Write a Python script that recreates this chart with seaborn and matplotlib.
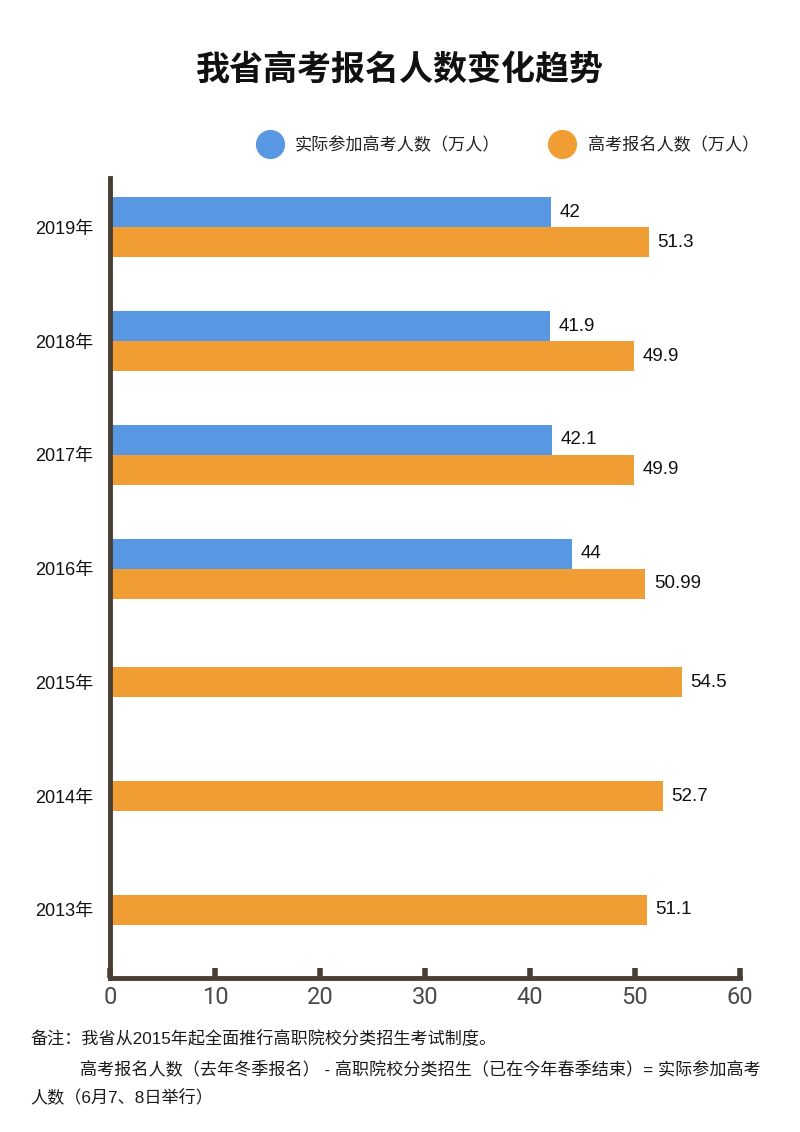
import matplotlib
matplotlib.use("Agg")
import matplotlib.pyplot as plt
from matplotlib.lines import Line2D
import numpy as np
import seaborn as sns

YEARS = ["2013年", "2014年", "2015年", "2016年", "2017年", "2018年", "2019年"]
REGISTERED = [51.1, 52.7, 54.5, 50.99, 49.9, 49.9, 51.3]          # 高考报名人数
ACTUAL = [None, None, None, 44, 42.1, 41.9, 42]                    # 实际参加高考人数
VALUE_TEXT_REG = ["51.1", "52.7", "54.5", "50.99", "49.9", "49.9", "51.3"]
VALUE_TEXT_ACT = [None, None, None, "44", "42.1", "41.9", "42"]
SERIES_NAMES = ["实际参加高考人数（万人）", "高考报名人数（万人）"]
X_TICKS = [0, 10, 20, 30, 40, 50, 60]

BLUE = "#5898E2"
ORANGE = "#F09E34"
AXIS = "#4A3E34"
CJK = ["Liberation Sans", "Noto Sans CJK SC"]

sns.set_theme(style="white")
plt.rcParams["font.family"] = CJK

fig = plt.figure(figsize=(8, 11.32), dpi=100)
ax = fig.add_axes([0.1375, 0.136, 0.7875, 0.7068])

bar_h = 0.264
for i, (reg, act) in enumerate(zip(REGISTERED, ACTUAL)):
    if act is None:
        ax.barh(i, reg, height=bar_h, color=ORANGE, edgecolor="none")
        ax.annotate(VALUE_TEXT_REG[i], (reg, i), xytext=(6, 0), textcoords="offset points",
                    va="center", ha="left", fontsize=13.5, color="#111111")
    else:
        ax.barh(i + bar_h / 2, act, height=bar_h, color=BLUE, edgecolor="none")
        ax.barh(i - bar_h / 2, reg, height=bar_h, color=ORANGE, edgecolor="none")
        ax.annotate(VALUE_TEXT_ACT[i], (act, i + bar_h / 2), xytext=(6, 0),
                    textcoords="offset points", va="center", ha="left",
                    fontsize=13.5, color="#111111")
        ax.annotate(VALUE_TEXT_REG[i], (reg, i - bar_h / 2), xytext=(6, 0),
                    textcoords="offset points", va="center", ha="left",
                    fontsize=13.5, color="#111111")

ax.set_xlim(0, 60)
ax.set_ylim(-0.6, 6.435)
ax.set_yticks(range(len(YEARS)))
ax.set_yticklabels(YEARS, fontsize=13, color="#111111")
ax.set_xticks(X_TICKS)
ax.set_xticklabels([str(t) for t in X_TICKS], fontsize=17, color="#4a4a4a",
                   family="Roboto", fontweight="normal")
ax.tick_params(axis="y", left=False, length=0, pad=12)
ax.tick_params(axis="x", bottom=True, direction="in", length=7, width=4,
               color=AXIS, pad=6)
sns.despine(ax=ax, top=True, right=True)
for side in ["left", "bottom"]:
    ax.spines[side].set_color(AXIS)
    ax.spines[side].set_linewidth(3.5)
    ax.spines[side].set_capstyle("projecting")

fig.text(0.5, 0.939, "我省高考报名人数变化趋势", ha="center", va="center",
         fontsize=24.5, fontweight="bold", family=["Noto Sans CJK SC"], color="#111111")

handles = [Line2D([], [], marker="o", ls="", ms=20, color=BLUE),
           Line2D([], [], marker="o", ls="", ms=20, color=ORANGE)]
fig.legend(handles, SERIES_NAMES, loc="center left", bbox_to_anchor=(0.307, 0.872),
           ncol=2, frameon=False, fontsize=12.3, handlelength=1.0, handletextpad=1.0,
           columnspacing=3.1, labelcolor="#222222")

note_kw = dict(fontsize=12.3, va="center", ha="left", color="#1a1a1a")
fig.text(0.0375, 1 - 1038 / 1132, "备注：我省从2015年起全面推行高职院校分类招生考试制度。", **note_kw)
fig.text(0.1, 1 - 1069 / 1132,
         "高考报名人数（去年冬季报名） - 高职院校分类招生（已在今年春季结束）= 实际参加高考",
         **note_kw)
fig.text(0.0375, 1 - 1097 / 1132, "人数（6月7、8日举行）", **note_kw)

fig.savefig("out.png", dpi=100, facecolor="white")
